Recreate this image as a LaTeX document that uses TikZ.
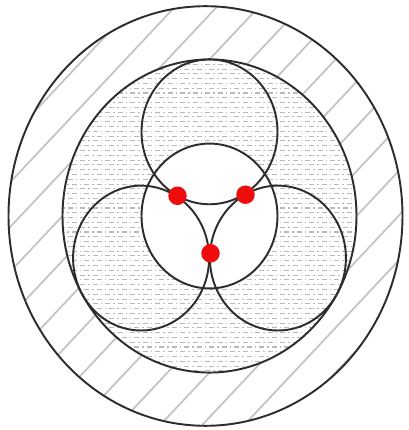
\documentclass[tikz,border=0pt]{standalone}
\usetikzlibrary{positioning}
\definecolor{hatchgray}{RGB}{195,195,195}
\definecolor{dotgray}{RGB}{185,185,185}
\definecolor{rimblack}{RGB}{45,45,45}
\definecolor{markred}{RGB}{238,12,12}

\begin{document}
\begin{tikzpicture}[x=0.02cm, y=0.02cm,
    rim/.style={draw=rimblack, line width=1.1pt},
    hatch/.style={draw=hatchgray, line width=1pt},
    texture/.style={draw=dotgray, line width=0.6pt, dash pattern=on 0.1cm off 0.06cm on 0.03cm off 0.06cm},
    marker/.style={circle, fill=markred, inner sep=0pt, minimum size=0.37cm}]
  \useasboundingbox (0,0) rectangle (409,430);
  \begin{scope}[shift={(209.5,214)}, yscale=1.065]
    \coordinate (mid) at (0,0);
    \coordinate (rim) at (-4,0);
    \coordinate (ctop) at (90:79);
    \coordinate (cleft) at (210:79);
    \coordinate (cright) at (330:79);

    % hatched ring
    \begin{scope}
      \clip (rim) circle (197);
      \foreach \k in {-441,-399,...,441}
        \draw[hatch] (\k-220,-220) -- (\k+220,220);
    \end{scope}

    % dotted core
    \begin{scope}
      \clip (mid) circle (147);
      \fill[white] (mid) circle (147);
      \foreach \r in {-150,-141,...,150}
        \draw[texture] (-150,\r) -- (150,\r);
      \foreach \r in {-145.5,-136.5,...,150}
        \draw[texture, dash phase=0.08cm] (-150,\r) -- (150,\r);
    \end{scope}
    \fill[white] (mid) circle (68);

    \draw[rim] (rim) circle (197);
    \draw[rim] (mid) circle (147);
    \draw[rim] (ctop) circle (68);
    \draw[rim] (cleft) circle (68);
    \draw[rim] (cright) circle (68);
    \draw[rim] (mid) circle (68);

    \node[marker] (dotleft) at (-32,19) {};
    \node[marker] (dotright) at (36,20) {};
    \node[marker] (dotbottom) at (1,-35) {};
  \end{scope}
\end{tikzpicture}
\end{document}
